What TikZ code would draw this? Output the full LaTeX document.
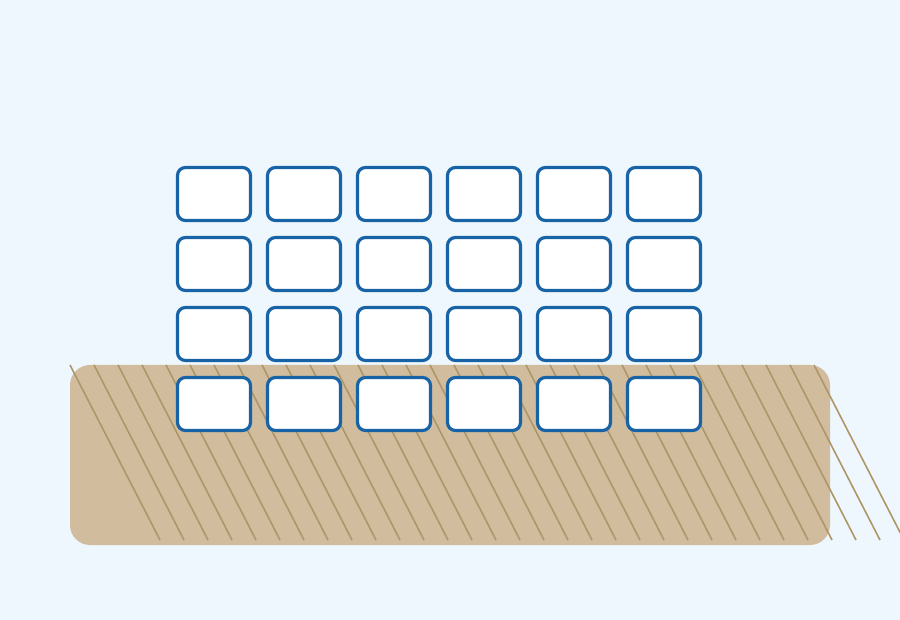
\documentclass[tikz,border=0pt]{standalone}
\usepackage{tikz}
\definecolor{skyback}{HTML}{EEF7FD}
\definecolor{sandfill}{HTML}{D1BD9E}
\definecolor{sandline}{HTML}{AE9668}
\definecolor{cellblue}{HTML}{1863A5}
\tikzset{
  cellbox/.style={draw=cellblue, fill=white, line width=3.2pt, rounded corners=8pt,
    minimum width=73pt, minimum height=53pt, inner sep=0pt},
  hatchline/.style={draw=sandline, line width=1.6pt}
}
\begin{document}
\begin{tikzpicture}[x=1pt, y=-1pt]
				\fill[skyback] (0, 0) rectangle (900, 620);
				\useasboundingbox (0, 0) rectangle (900, 620);
				
				% sand bed
				\fill[sandfill, rounded corners=20pt] (70, 365) rectangle (830, 545);
				\foreach \k in {0,...,31}
					\draw[hatchline] ({70+24*\k}, 365) -- ({160+24*\k}, 540);
				
				% grid of cells
				\foreach \r in {0,...,3}
					\foreach \c in {0,...,5}
						\node[cellbox] (cell-\r-\c) at ({214+90*\c}, {194+70*\r}) {};
\end{tikzpicture}
\end{document}
